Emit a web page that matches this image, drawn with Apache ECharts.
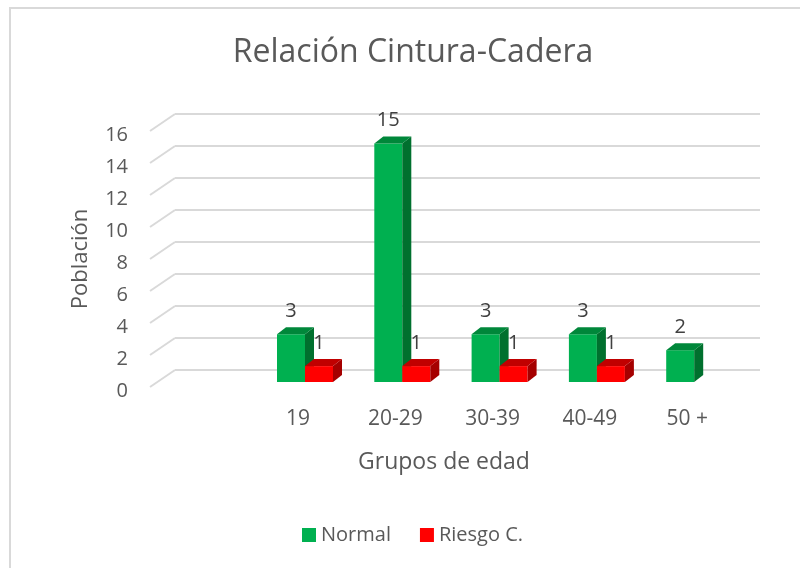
<!DOCTYPE html>
<html><head><meta charset="utf-8">
<script src="https://cdn.jsdelivr.net/npm/echarts@6/dist/echarts.min.js"></script>
<style>html,body{margin:0;padding:0;background:#fff}#c{width:800px;height:568px}</style>
</head><body><div id="c"></div>
<script>
const categories = ['19', '20-29', '30-39', '40-49', '50 +'];
const normalValues = [3, 15, 3, 3, 2];
const riesgoValues = [1, 1, 1, 1, null];
const yTicks = [0, 2, 4, 6, 8, 10, 12, 14, 16];
const seriesNames = ['Normal', 'Riesgo C.'];

const FONT = 'Open Sans';
const TXT = '#595959';
const BW = 28, DX = 9, DY = 7;

function barRenderer(face, side, top, offsetSign) {
  return function (params, api) {
    const v = api.value(1);
    if (v === null || v === undefined || isNaN(v)) return;
    const c = api.coord([api.value(0), v]);
    const b = api.coord([api.value(0), 0]);
    const x0 = offsetSign < 0 ? c[0] - BW : c[0];
    const yt = c[1], yb = b[1];
    return {
      type: 'group',
      children: [
        { type: 'rect', shape: { x: x0, y: yt, width: BW, height: yb - yt }, style: { fill: face } },
        { type: 'polygon', shape: { points: [[x0 + BW, yt], [x0 + BW + DX, yt - DY], [x0 + BW + DX, yb - DY], [x0 + BW, yb]] }, style: { fill: side } },
        { type: 'polygon', shape: { points: [[x0, yt], [x0 + DX, yt - DY], [x0 + BW + DX, yt - DY], [x0 + BW, yt]] }, style: { fill: top } },
        { type: 'text', x: x0 + BW / 2, y: yt - 23, style: { text: String(v), font: '20px "' + FONT + '"', fill: '#404040', align: 'center', verticalAlign: 'middle' } }
      ]
    };
  };
}

const chart = echarts.init(document.getElementById('c'), null, { renderer: 'canvas' });
chart.setOption({
  animation: false,
  backgroundColor: '#fff',
  textStyle: { fontFamily: FONT },
  title: { text: 'Relación Cintura-Cadera', left: 408, top: 32, textAlign: 'center',
    textStyle: { fontFamily: FONT, fontSize: 32, fontWeight: 'normal', color: TXT } },
  graphic: [
    { type: 'rect', shape: { x: 10, y: 8, width: 820, height: 620 }, style: { fill: null, stroke: '#d9d9d9', lineWidth: 2 }, silent: true },
    { type: 'text', x: 444, y: 462, style: { text: 'Grupos de edad', font: '23px "' + FONT + '"', fill: TXT, align: 'center', verticalAlign: 'middle' } }
  ],
  legend: {
    left: 297, top: 520, itemWidth: 14, itemHeight: 14, itemGap: 29,
    icon: 'rect',
    textStyle: { fontFamily: FONT, fontSize: 20, color: TXT },
    data: [
      { name: seriesNames[0], itemStyle: { color: '#00b050' } },
      { name: seriesNames[1], itemStyle: { color: '#ff0000' } }
    ]
  },
  grid: [
    { left: 150, right: 40, top: 131, height: 256 },
    { left: 175, right: 40, top: 114, height: 256 },
    { left: 256.35, right: 57.15, top: 127.6, height: 254.4 }
  ],
  xAxis: [
    { gridIndex: 0, type: 'value', min: 0, max: 1, show: false },
    { gridIndex: 1, type: 'value', min: 0, max: 1, show: false },
    { gridIndex: 2, type: 'category', data: categories,
      axisLine: { show: false }, axisTick: { show: false },
      axisLabel: { fontFamily: FONT, fontSize: 21, color: TXT, margin: 27, padding: [0, 14, 0, 0] } }
  ],
  yAxis: [
    { gridIndex: 0, type: 'value', min: 0, max: 16, interval: 2,
      name: 'Población', nameLocation: 'middle', nameGap: 58, nameRotate: 90,
      nameTextStyle: { fontFamily: FONT, fontSize: 22, color: TXT },
      axisLine: { show: false }, axisTick: { show: false }, splitLine: { show: false },
      axisLabel: { margin: 22, formatter: '{t|{value}}',
        rich: { t: { fontFamily: FONT, fontSize: 20, color: TXT, padding: [8, 0, 0, 0] } } } },
    { gridIndex: 1, type: 'value', min: 0, max: 16, interval: 2,
      axisLine: { show: false }, axisTick: { show: false }, axisLabel: { show: false },
      splitLine: { show: true, lineStyle: { color: '#d9d9d9', width: 2 } } },
    { gridIndex: 2, type: 'value', min: 0, max: 16, interval: 2, show: false }
  ],
  series: [
    { type: 'custom', xAxisIndex: 0, yAxisIndex: 0, silent: true,
      data: yTicks.map(t => [0, t]),
      renderItem: function (params, api) {
        const p = api.coord([0, api.value(1)]);
        return { type: 'line', shape: { x1: p[0], y1: p[1], x2: p[0] + 25, y2: p[1] - 17 }, style: { stroke: '#d9d9d9', lineWidth: 2 } };
      } },
    { name: seriesNames[0], type: 'custom', xAxisIndex: 2, yAxisIndex: 2,
      itemStyle: { color: '#00b050' },
      data: normalValues.map((v, i) => [i, v]),
      renderItem: barRenderer('#00b050', '#00702e', '#00873a', -1) },
    { name: seriesNames[1], type: 'custom', xAxisIndex: 2, yAxisIndex: 2,
      itemStyle: { color: '#ff0000' },
      data: riesgoValues.map((v, i) => [i, v]),
      renderItem: barRenderer('#ff0000', '#a50000', '#c00000', 1) }
  ]
});
</script></body></html>
